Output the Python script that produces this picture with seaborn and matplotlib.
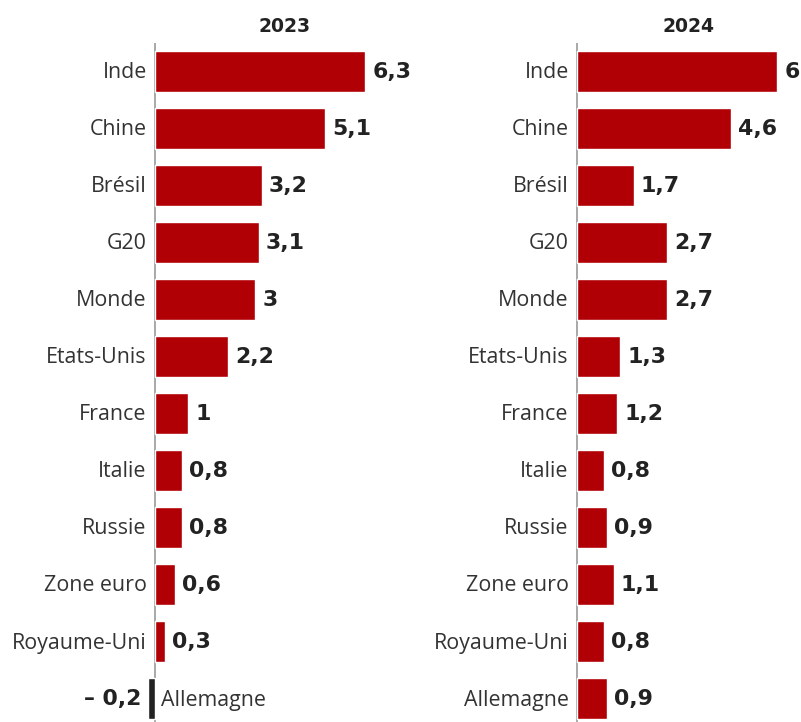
import matplotlib
matplotlib.use("Agg")
import matplotlib.pyplot as plt
import seaborn as sns
import pandas as pd

# Croissance du PIB (%) par pays
pays = ["Inde", "Chine", "Brésil", "G20", "Monde", "Etats-Unis", "France",
        "Italie", "Russie", "Zone euro", "Royaume-Uni", "Allemagne"]
croissance_2023 = [6.3, 5.1, 3.2, 3.1, 3.0, 2.2, 1.0, 0.8, 0.8, 0.6, 0.3, -0.2]
croissance_2024 = [6.0, 4.6, 1.7, 2.7, 2.7, 1.3, 1.2, 0.8, 0.9, 1.1, 0.8, 0.9]
annees = ["2023", "2024"]

ROUGE = "#b00005"
NOIR = "#222222"
GRIS_TEXTE = "#333333"

sns.set_theme(style="white")
plt.rcParams["font.family"] = ["Open Sans", "DejaVu Sans"]

LABEL_FONT = dict(family=["Open Sans", "DejaVu Sans"], size=15.4, color=GRIS_TEXTE)
VALUE_FONT = dict(family=["DejaVu Sans"], size=15.8, weight="bold", color=NOIR)


def fmt(v):
    s = f"{abs(v):.1f}".rstrip("0").rstrip(".").replace(".", ",")
    return ("\u2013 " + s) if v < 0 else s


W, H = 801, 722
fig = plt.figure(figsize=(W / 100, H / 100), dpi=100)

px_unit = 33.4
xmin, xmax = -0.3, 7.2
axis_x = [155, 577]
top_px = 43
ax_h = (H - top_px) / H

for i, (annee, vals) in enumerate(zip(annees, [croissance_2023, croissance_2024])):
    left_px = axis_x[i] + xmin * px_unit
    width_px = (xmax - xmin) * px_unit
    ax = fig.add_axes([left_px / W, 0, width_px / W, ax_h])
    df = pd.DataFrame({"pays": pays, "valeur": vals,
                       "signe": ["neg" if v < 0 else "pos" for v in vals]})
    sns.barplot(data=df, y="pays", x="valeur", hue="signe",
                palette={"pos": ROUGE, "neg": NOIR}, dodge=False,
                width=0.72, legend=False, ax=ax, orient="h", saturation=1)
    ax.set_xlim(xmin, xmax)
    ax.set_ylim(11.41, -0.5)
    ax.axis("off")
    ax.axvline(0, color="#9a9a9a", lw=1.2, zorder=0)

    for j, (p, v) in enumerate(zip(pays, vals)):
        if v >= 0:
            ax.annotate(p, (0, j), xytext=(-6, -1), textcoords="offset points",
                        ha="right", va="center", **LABEL_FONT)
            ax.annotate(fmt(v), (v, j), xytext=(5, 0), textcoords="offset points",
                        ha="left", va="center", **VALUE_FONT)
        else:
            ax.annotate(p, (0, j), xytext=(4, -1), textcoords="offset points",
                        ha="left", va="center", **LABEL_FONT)
            ax.annotate(fmt(v), (v, j), xytext=(-5, 0), textcoords="offset points",
                        ha="right", va="center", **VALUE_FONT)

    title_x = [285, 688][i]
    fig.text(title_x / W, 1 - 26 / H, annee, ha="center", va="center",
             family=["DejaVu Sans"], size=13.5, weight="bold", color=NOIR)

fig.savefig("out.png", dpi=100, facecolor="white")
